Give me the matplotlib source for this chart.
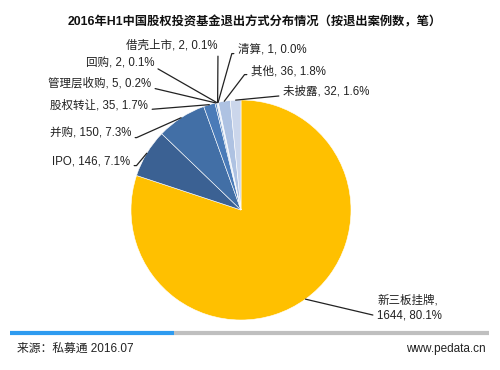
import numpy as np
import matplotlib
matplotlib.use("Agg")
from matplotlib import pyplot as plt

plt.rcParams['font.family'] = ['Liberation Sans', 'Noto Sans CJK SC', 'DejaVu Sans']

# exit types, clockwise from 12 o'clock
names = ["新三板挂牌", "IPO", "并购", "股权转让", "管理层收购", "回购", "借壳上市", "清算", "其他", "未披露"]
counts = [1644, 146, 150, 35, 5, 2, 2, 1, 36, 32]
pcts = ["80.1%", "7.1%", "7.3%", "1.7%", "0.2%", "0.1%", "0.1%", "0.0%", "1.8%", "1.6%"]
colors = ["#FFC000", "#3B6193", "#426FA6", "#4A7BB8", "#5583BE", "#5B88C2", "#6A93C8",
          "#7FA2D2", "#AEC2E2", "#CBD6EB"]

# label positions in pixels (x, y from top), alignment, short elbow length
label_pos = {
    "新三板挂牌": (377, 308, "left", 0),
    "IPO": (130, 162, "right", 7),
    "并购": (131, 134, "right", 7),
    "股权转让": (148, 106, "right", 0),
    "管理层收购": (151, 84, "right", 0),
    "回购": (154, 63, "right", 0),
    "借壳上市": (218, 46, "right", 0),
    "清算": (238, 50, "left", -6),
    "其他": (251, 71, "left", -6),
    "未披露": (283, 92, "left", 0),
}

H = 370
cx, cy, r = 241, H - 210, 110

fig = plt.figure(figsize=(5, 3.7), dpi=100)
ax = fig.add_axes([0, 0, 1, 1])
wedges, _ = ax.pie(counts, colors=colors, startangle=90, counterclock=False,
                   center=(cx, cy), radius=r, frame=True,
                   wedgeprops=dict(edgecolor="white", linewidth=0.4))
ax.set_xlim(0, 500)
ax.set_ylim(0, H)
ax.set_aspect("equal")
ax.axis("off")

for w, name, n, p in zip(wedges, names, counts, pcts):
    ang = np.deg2rad((w.theta1 + w.theta2) / 2)
    px = cx + r * np.cos(ang)
    py = cy + r * np.sin(ang)
    tx, ty, ha, elbow = label_pos[name]
    if name == "新三板挂牌":
        txt = f"{name},\n{n}, {p}"
    else:
        txt = f"{name}, {n}, {p}"
    relpos = (1, 0.2) if ha == "right" else (0, 0.2)
    if elbow:
        # horizontal stub from the label, then straight to the slice
        bx, by = tx + elbow, H - ty - 3
        angB = np.degrees(np.arctan2(by - py, bx - px))
        cs = f"angle,angleA=0,angleB={angB:.2f},rad=0"
    else:
        cs = "arc3,rad=0"
    ax.annotate(txt, xy=(px, py), xytext=(tx, H - ty), ha=ha, va="center",
                fontsize=8.3, color="#222222", linespacing=1.3,
                arrowprops=dict(arrowstyle="-", color="#222222", lw=0.9,
                                shrinkA=1, shrinkB=0, relpos=relpos,
                                connectionstyle=cs))

fig.text(0.51, 1 - 22 / H, "2016年H1中国股权投资基金退出方式分布情况（按退出案例数，笔）",
         ha="center", va="center", fontsize=8.8, fontweight="bold", color="#111111")

# footer bar
ax.plot([10, 174], [H - 333, H - 333], color="#2E9BF0", lw=3, solid_capstyle="butt")
ax.plot([174, 489], [H - 333, H - 333], color="#BFBFBF", lw=3, solid_capstyle="butt")
fig.text(17 / 500, 1 - 349 / H, "来源：私募通 2016.07", ha="left", va="center",
         fontsize=8.5, color="#222222")
fig.text(486 / 500, 1 - 349 / H, "www.pedata.cn", ha="right", va="center",
         fontsize=8.5, color="#222222")

fig.savefig("out.png", dpi=100, facecolor="white")
